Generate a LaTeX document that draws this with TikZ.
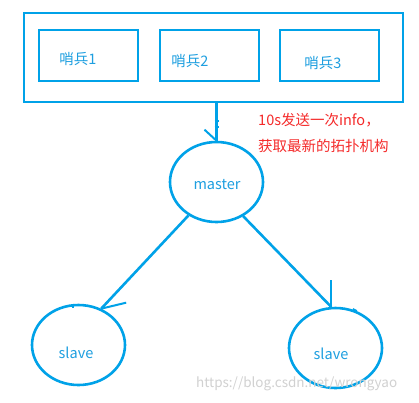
\documentclass[tikz,border=0pt]{standalone}
\usepackage{fontspec}
\setmainfont{Noto Sans CJK SC}
\usetikzlibrary{shapes.geometric}
\definecolor{lineblue}{HTML}{00A2E8}
\definecolor{textblue}{HTML}{1E9FE0}
\definecolor{notered}{HTML}{F52A2A}
\begin{document}
\begin{tikzpicture}[x=1pt,y=-1pt,
  box/.style={draw=lineblue,line width=2.6pt,rectangle,inner sep=0pt},
  oval/.style={draw=lineblue,line width=2.6pt,ellipse,inner sep=0pt,minimum width=93pt,minimum height=80pt},
  lbl/.style={text=textblue,font=\fontsize{14.5}{16}\selectfont,inner sep=0pt},
  note/.style={text=notered,font=\fontsize{14.5}{17}\selectfont,inner sep=0pt,anchor=west},
  conn/.style={draw=lineblue,line width=2.6pt},
  tick/.style={draw=lineblue,line width=2pt}]
\useasboundingbox (0,0) rectangle (419,402);
\fill[white] (0,0) rectangle (419,402);
% sentinel group
\node[box,minimum width=379pt,minimum height=89pt] (outer) at (213.5,57.5) {};
\node[box,minimum width=99pt,minimum height=51pt] (s1) at (88.5,55.5) {};
\node[box,minimum width=99pt,minimum height=51pt] (s2) at (209.5,55.5) {};
\node[box,minimum width=99pt,minimum height=51pt] (s3) at (329.5,55.5) {};
\node[lbl] (t1) at (78,59) {哨兵1};
\node[lbl] (t2) at (190,61) {哨兵2};
\node[lbl] (t3) at (323,63) {哨兵3};
% master and slaves
\node[oval] (master) at (216.5,182) {};
\node[lbl] (mt) at (217,185) {master};
\node[oval] (sl) at (78.5,345) {};
\node[lbl] (slt) at (76,353) {slave};
\node[oval] (sr) at (335.5,348) {};
\node[lbl] (srt) at (331,354) {slave};
% note
\node[note] (n1) at (258,120) {10s发送一次info，};
\node[note] (n2) at (258,146) {获取最新的拓扑机构};
% connectors
\draw[conn] (outer.south -| master.north) -- (master.north);
\draw[tick] (master.north) -- ++(-12,-11);
\draw[tick] ([xshift=-2pt,yshift=20pt]master.north) -- ++(4,0);
\draw[tick] ([xshift=-2pt,yshift=14pt]master.north) -- ++(4,0);
\draw[conn] (master.230) -- (sl.58);
\draw[tick] (sl.58) -- ++(25,-6);
\draw[tick] (sl.97) -- ++(0,4);
\draw[conn] (master.-52) -- (sr.96);
\draw[tick] (sr.96) -- ++(0,-27);
\draw[tick] (sr.60) -- ++(-4,-2);
% watermark
\node[text=black!18,font=\fontsize{13.5}{15}\selectfont,inner sep=0pt,anchor=west] (wm) at (196,384) {https://blog.csdn.net/wrongyao};
\end{tikzpicture}
\end{document}
